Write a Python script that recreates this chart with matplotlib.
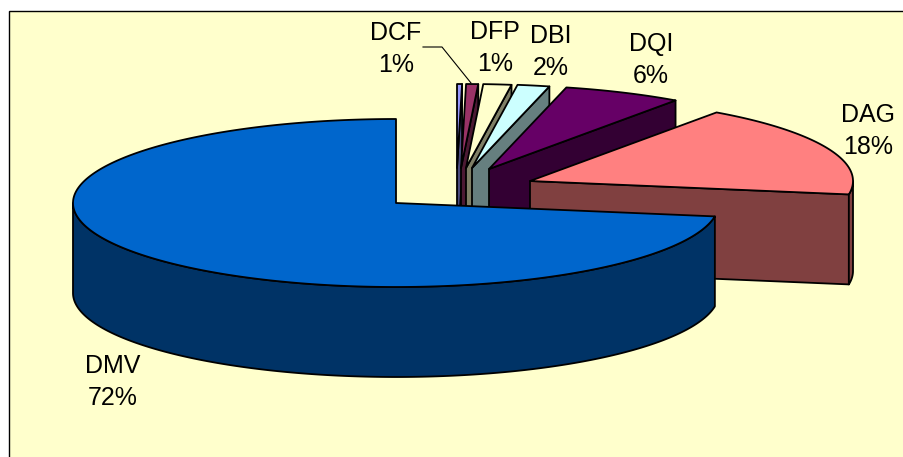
import numpy as np
import matplotlib
matplotlib.use('Agg')
import matplotlib.pyplot as plt
from matplotlib.patches import Polygon, Rectangle

# share of each slice, clockwise from 12 o'clock (first one has no label)
slices = ['', 'DCF', 'DFP', 'DBI', 'DQI', 'DAG', 'DMV']
shares = [0.25, 0.6, 1.4, 1.6, 5.95, 17.75, 72.45]

labels = ['DCF', 'DFP', 'DBI', 'DQI', 'DAG', 'DMV']
percents = ['1%', '1%', '2%', '6%', '18%', '72%']

top_colors = ['#9999FF', '#993366', '#FFFFCC', '#CCFFFF', '#660066', '#FF8080', '#0066CC']
side_colors = ['#4C4C7F', '#4C1933', '#7F7F66', '#667F7F', '#330033', '#804040', '#003366']

# where each slice tip ended up after exploding (pixels)
tips = [(457, 168), (461, 168), (466, 168), (472, 168), (489, 169), (530, 181), (396, 203)]
label_pos = [(396, 49), (495, 48), (551, 52), (651, 60), (868, 131), (113, 382)]

RX = 323
RY = 84
DEPTH = 90

fig = plt.figure(figsize=(9.04, 4.57), dpi=100)
ax = fig.add_axes([0, 0, 1, 1])
ax.set_xlim(0, 904)
ax.set_ylim(457, 0)
ax.axis('off')

ax.add_patch(Rectangle((9, 11), 900, 450, facecolor='#FFFFCC', edgecolor='black', linewidth=1.0))


def arc(tip, a0, a1):
    t = np.radians(np.linspace(a0, a1, max(int(abs(a1 - a0)) * 2, 2)))
    return np.column_stack([tip[0] + RX * np.sin(t), tip[1] - RY * np.cos(t)])


def face(pts, color, z):
    ax.add_patch(Polygon(pts, closed=True, facecolor=color, edgecolor='black',
                         linewidth=1.3, joinstyle='round', zorder=z))


edges = np.concatenate([[0], np.cumsum(shares)]) / sum(shares) * 360
for i in range(len(shares)):
    a0, a1 = edges[i], edges[i + 1]
    tip = tips[i]
    z = 2 + i
    drop = np.array([0, DEPTH])
    # cut faces, only the ones turned towards the viewer
    if np.sin(np.radians(a1)) > 1e-6:
        end = arc(tip, a1, a1)[0]
        face([tip, end, end + drop, np.array(tip) + drop], side_colors[i], z)
    if np.sin(np.radians(a0)) < -1e-6:
        start = arc(tip, a0, a0)[0]
        face([tip, start, start + drop, np.array(tip) + drop], side_colors[i], z)
    # outer rim
    r0, r1 = max(a0, 90), min(a1, 270)
    if r1 > r0:
        rim = arc(tip, r0, r1)
        face(np.vstack([rim, (rim + drop)[::-1]]), side_colors[i], z)
    face(np.vstack([[tip], arc(tip, a0, a1)]), top_colors[i], z)

# leader line for DCF
ax.plot([423, 442, 471], [47, 47, 83], color='black', linewidth=0.8, zorder=20)

for name, pct, pos in zip(labels, percents, label_pos):
    ax.text(pos[0], pos[1], name + '\n' + pct, ha='center', va='center', multialignment='center',
            fontsize=18, family='Liberation Sans', linespacing=1.42, color='black', zorder=21)

fig.savefig('out.png', dpi=100)
